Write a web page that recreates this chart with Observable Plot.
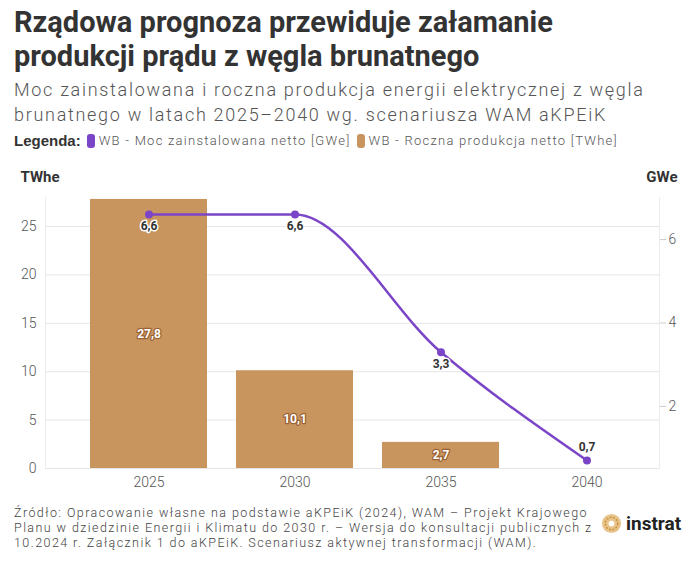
<!DOCTYPE html>
<html>
<head>
<meta charset="utf-8">
<script src="https://cdn.jsdelivr.net/npm/d3@7"></script>
<script src="https://cdn.jsdelivr.net/npm/@observablehq/plot@0.6"></script>
<style>
  html, body { margin: 0; padding: 0; background: #fff; }
  #wrap { position: relative; width: 700px; height: 566px; overflow: hidden; }
  .title { position: absolute; left: 14px; top: 5px; font-family: "Liberation Sans Narrow", "Roboto", sans-serif; font-weight: 700; font-size: 29px; line-height: 34px; color: #333; }
  .subtitle { position: absolute; left: 14px; top: 77px; font-family: "Roboto", sans-serif; font-weight: 300; font-size: 18px; letter-spacing: 1.7px; line-height: 25px; color: #555; white-space: nowrap; }
  .legend { position: absolute; left: 14px; top: 132px; font-family: "Roboto", sans-serif; font-weight: 300; font-size: 13px; letter-spacing: 1.25px; color: #555; display: flex; align-items: center; white-space: nowrap; }
  .legend b { color: #333; font-weight: 700; margin-right: 6px; font-family: "Liberation Sans Narrow", sans-serif; font-size: 15px; letter-spacing: 0; }
  .sw { display: inline-block; width: 8px; height: 14px; border-radius: 3px; margin-right: 4px; }
  .item { display: inline-flex; align-items: center; margin-right: 6px; }
  #chart { position: absolute; left: 0; top: 160px; }
  .footer { position: absolute; left: 14px; top: 505px; font-family: "Roboto", sans-serif; font-weight: 300; font-size: 12.5px; letter-spacing: 1.43px; line-height: 15px; color: #444; white-space: nowrap; }
  .logo { position: absolute; left: 601px; top: 512px; display: flex; align-items: center; font-family: "Roboto", sans-serif; font-weight: 700; font-size: 19px; color: #222; }
</style>
</head>
<body>
<div id="wrap">
  <div class="title">Rządowa prognoza przewiduje załamanie<br>produkcji prądu z węgla brunatnego</div>
  <div class="subtitle">Moc zainstalowana i roczna produkcja energii elektrycznej z węgla<br>brunatnego w latach 2025–2040 wg. scenariusza WAM aKPEiK</div>
  <div class="legend"><b>Legenda:</b>
    <span class="item"><span class="sw" style="background:#7B45C8"></span>WB - Moc zainstalowana netto [GWe]</span>
    <span class="item"><span class="sw" style="background:#C9955E"></span>WB - Roczna produkcja netto [TWhe]</span>
  </div>
  <div id="chart"></div>
  <div class="footer">Źródło: Opracowanie własne na podstawie aKPEiK (2024), WAM – Projekt Krajowego<br>Planu w dziedzinie Energii i Klimatu do 2030 r. – Wersja do konsultacji publicznych z<br>10.2024 r. Załącznik 1 do aKPEiK. Scenariusz aktywnej transformacji (WAM).</div>
  <div class="logo">
    <svg width="21" height="21" viewBox="-11 -11 22 22" style="margin-right:4px">
      <circle r="10" fill="#E8C48A"/>
      <circle r="6.5" fill="none" stroke="#C98F3E" stroke-width="1.5" stroke-dasharray="2 1.5"/>
      <circle r="3" fill="#fff"/>
    </svg>instrat
  </div>
</div>
<script>
const years = ["2025", "2030", "2035", "2040"];
const productionTWhe = [27.8, 10.1, 2.7, null];
const capacityGWe = [6.6, 6.6, 3.3, 0.7];
const leftTicks = [0, 5, 10, 15, 20, 25];
const rightTicks = [2, 4, 6];
const leftDomain = [0, 28];
const rightDomain = [0.51, 7.01];

const toLeft = v => leftDomain[0] + (v - rightDomain[0]) / (rightDomain[1] - rightDomain[0]) * (leftDomain[1] - leftDomain[0]);
const fromLeft = y => rightDomain[0] + (y - leftDomain[0]) / (leftDomain[1] - leftDomain[0]) * (rightDomain[1] - rightDomain[0]);

const bars = years.map((year, i) => ({year, value: productionTWhe[i]})).filter(d => d.value != null);
const line = years.map((year, i) => ({year, value: capacityGWe[i], y: toLeft(capacityGWe[i]), last: i === years.length - 1}));
const fmt = v => v.toFixed(1).replace(".", ",");

const W = 700, H = 330, ML = 45, MR = 41, MT = 37, MB = 22;
const fontFamily = "Roboto, sans-serif";

const chart = Plot.plot({
  width: W, height: H,
  marginLeft: ML, marginRight: MR, marginTop: MT, marginBottom: MB,
  style: {fontFamily, fontSize: "13px", color: "#444", background: "transparent", overflow: "visible"},
  x: {domain: years, range: [75.5, 659.5], paddingInner: 0.2, paddingOuter: 0.1, label: null},
  y: {domain: leftDomain, label: null},
  marks: [
    Plot.ruleY(leftTicks, {stroke: "#e6e6e6", strokeWidth: 1}),
    Plot.frame({anchor: "left", stroke: "#ececec"}),
    Plot.frame({anchor: "right", stroke: "#ececec"}),
    Plot.barY(bars, {x: "year", y: "value", fill: "#C9955E"}),
    Plot.axisY({ticks: leftTicks, anchor: "left", tickSize: 0, tickPadding: 9, fontSize: 14, fontWeight: 300, fill: "#555", label: null, style: "letter-spacing:1px"}),
    Plot.axisY({ticks: rightTicks.map(toLeft), anchor: "right", tickSize: 6, tickPadding: 3, stroke: "#ccc", fontSize: 14, fontWeight: 300, fill: "#555", tickFormat: d => String(Math.round(fromLeft(d))), label: null}),
    Plot.axisX({tickSize: 0, tickPadding: 9, fontSize: 14, fontWeight: 300, fill: "#555", label: null}),
    Plot.text(bars, {x: "year", y: d => d.value / 2, text: d => fmt(d.value), fill: "#fff", stroke: "#9a6234", strokeWidth: 2.5, fontWeight: 700, fontSize: 12}),
    Plot.line(line, {x: "year", y: "y", stroke: "#7B45C8", strokeWidth: 2.5, curve: "monotone-x"}),
    Plot.dot(line, {x: "year", y: "y", fill: "#7B45C8", r: 4}),
    Plot.text(line.filter(d => !d.last), {x: "year", y: "y", dy: 12, text: d => fmt(d.value), fill: "#333", stroke: "#fff", strokeWidth: 3, fontWeight: 700, fontSize: 12}),
    Plot.text(line.filter(d => d.last), {x: "year", y: "y", dy: -13, text: d => fmt(d.value), fill: "#333", stroke: "#fff", strokeWidth: 3, fontWeight: 700, fontSize: 12}),
    Plot.text(["TWhe"], {frameAnchor: "top-left", dx: -25, dy: -26, text: d => d, fill: "#333", fontWeight: 700, fontSize: 15, textAnchor: "start"}),
    Plot.text(["GWe"], {frameAnchor: "top-right", dx: 18, dy: -26, text: d => d, fill: "#333", fontWeight: 700, fontSize: 15, textAnchor: "end"})
  ]
});
document.getElementById("chart").appendChild(chart);
</script>
</body>
</html>
